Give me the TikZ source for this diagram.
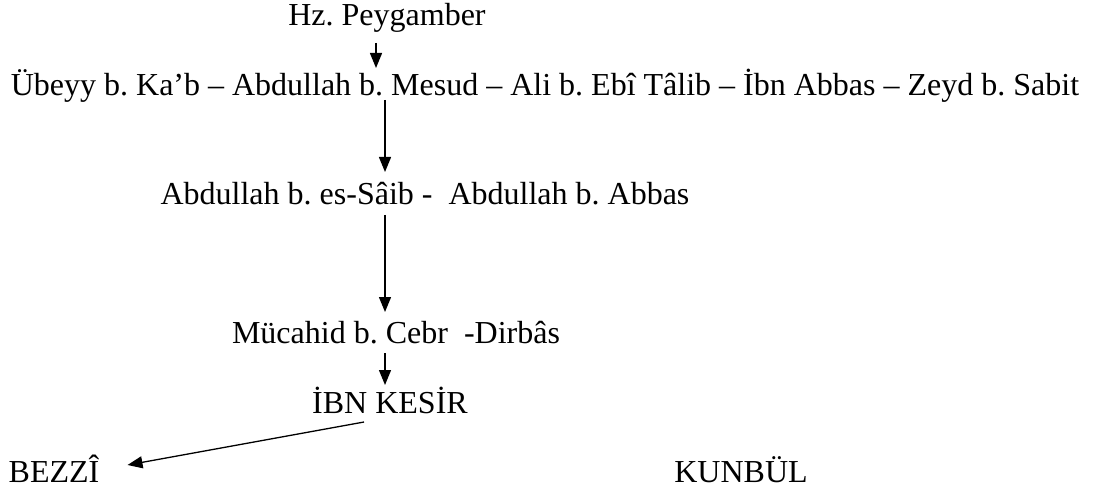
\documentclass[tikz,border=0pt]{standalone}
\usepackage{fontspec}
\setmainfont{Liberation Serif}
\usetikzlibrary{arrows.meta}
\begin{document}
\frenchspacing
\begin{tikzpicture}[x=1pt,y=-1pt,
  lbl/.style={inner sep=0pt,font=\fontsize{32}{38}\selectfont},
  arr/.style={line width=1.3pt,-{Triangle[length=15pt,width=12pt]}}]
\useasboundingbox (0,0) rectangle (1094,494);
\node[lbl,anchor=base] (hz) at (387,26) {Hz. Peygamber};
\node[lbl,anchor=base] (main) at (545,96) {Übeyy b. Ka’b – Abdullah b. Mesud – Ali b. Ebî Tâlib – İbn Abbas – Zeyd b. Sabit};
\node[lbl,anchor=base] (saib) at (425,205) {Abdullah b. es-Sâib -\ \ Abdullah b. Abbas};
\node[lbl,anchor=base] (muc) at (396,343) {Mücahid b. Cebr\ \ -Dirbâs};
\node[lbl,anchor=base] (ibn) at (390,413) {İBN KESİR};
\node[lbl,anchor=base] (bez) at (54,482) {BEZZÎ};
\node[lbl,anchor=base] (kun) at (741,482) {KUNBÜL};
\coordinate (xa) at (376,0);
\coordinate (xb) at (385,0);
\draw[arr] ([yshift=-17pt]hz.base -| xa) -- ([yshift=28pt]main.base -| xa);
\draw[arr] ([yshift=-4pt]main.base -| xb) -- ([yshift=33pt]saib.base -| xb);
\draw[arr] ([yshift=-10pt]saib.base -| xb) -- ([yshift=31pt]muc.base -| xb);
\draw[arr] ([yshift=-10pt]muc.base -| xb) -- ([yshift=28pt]ibn.base -| xb);
\draw[arr] ([shift={(52pt,-9pt)}]ibn.base west) -- ([shift={(28pt,17pt)}]bez.base east);
\end{tikzpicture}
\end{document}
